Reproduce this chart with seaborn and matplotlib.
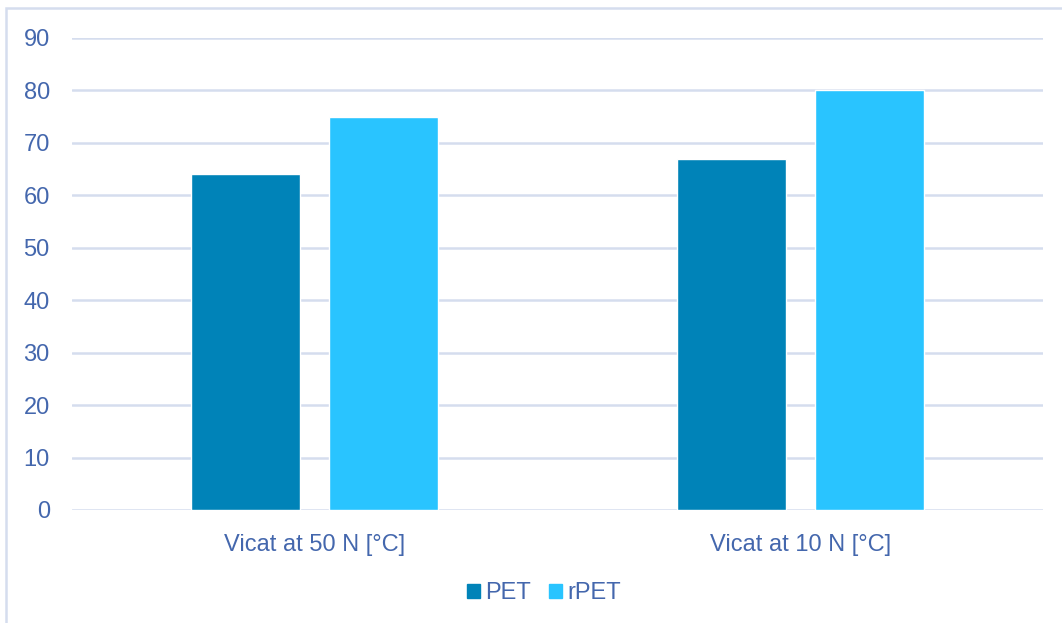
import matplotlib
matplotlib.use("Agg")
import matplotlib.pyplot as plt
import seaborn as sns
import pandas as pd
from matplotlib.patches import Rectangle

categories = ["Vicat at 50 N [°C]", "Vicat at 10 N [°C]"]
series_names = ["PET", "rPET"]
pet_values = [64, 67]
rpet_values = [75, 80]
yticks = [0, 10, 20, 30, 40, 50, 60, 70, 80, 90]

df = pd.DataFrame({
    "category": categories * 2,
    "series": [series_names[0]] * 2 + [series_names[1]] * 2,
    "value": pet_values + rpet_values,
})

sns.set_theme(style="white")
plt.rcParams["font.family"] = ["Liberation Sans", "DejaVu Sans"]

TEXT = "#4467AD"
GRID = "#D5DDEE"
FS = 17
palette = {"PET": "#0083B8", "rPET": "#29C4FF"}

fig = plt.figure(figsize=(10.62, 6.23), dpi=100)
ax = fig.add_axes([72/1062, 1 - 510/623, (1043-72)/1062, (510-38)/623])

sns.barplot(data=df, x="category", y="value", hue="series", order=categories,
            hue_order=series_names, palette=palette, width=0.568, gap=0.21,
            saturation=1, ax=ax, legend=False, zorder=3)

ax.set_xlim(-0.5, 1.5)
ax.set_ylim(0, 90)
ax.set_yticks(yticks)
ax.set_xlabel("")
ax.set_ylabel("")
for s in ax.spines.values():
    s.set_visible(False)
ax.yaxis.grid(True, color=GRID, linewidth=1.8, zorder=0)
ax.set_axisbelow(True)
ax.tick_params(axis="y", length=0, pad=16, labelsize=FS, labelcolor=TEXT)
ax.tick_params(axis="x", length=0, pad=17, labelsize=FS, labelcolor=TEXT)

handles = [Rectangle((0, 0), 1, 1, color=palette[n]) for n in series_names]
fig.legend(handles, series_names, loc="center", bbox_to_anchor=(544/1062, 1 - 593/623),
           ncol=2, frameon=False, fontsize=FS, labelcolor=TEXT,
           handlelength=0.55, handleheight=0.55, handletextpad=0.25,
           columnspacing=0.75)

fig.patches.append(Rectangle((6/1062, -0.1), 1.2, (1 - 8/623) + 0.1,
                             transform=fig.transFigure, fill=False,
                             edgecolor=GRID, linewidth=1.8))

fig.savefig("out.png", dpi=100)
